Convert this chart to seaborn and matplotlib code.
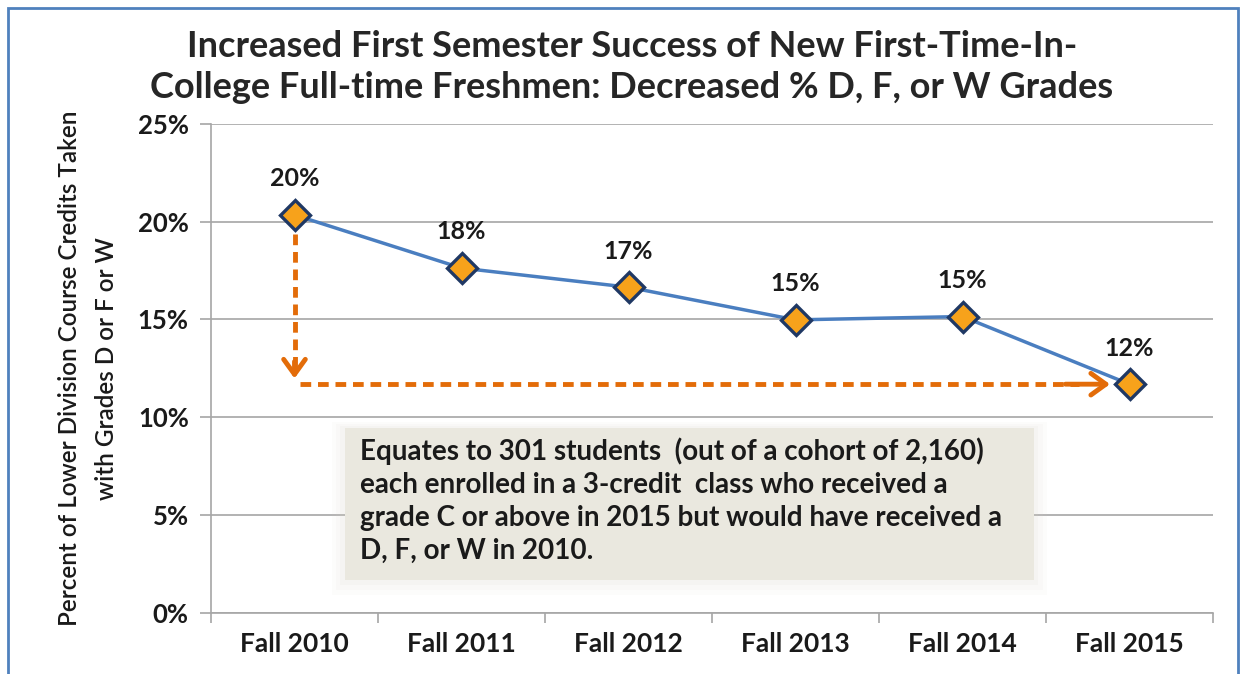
import matplotlib
matplotlib.use("Agg")
import matplotlib.pyplot as plt
import seaborn as sns
import pandas as pd
from matplotlib.patches import Rectangle
from matplotlib.ticker import PercentFormatter

categories = ["Fall 2010", "Fall 2011", "Fall 2012", "Fall 2013", "Fall 2014", "Fall 2015"]
values = [20.35, 17.63, 16.65, 14.98, 15.15, 11.69]
labels = ["20%", "18%", "17%", "15%", "15%", "12%"]
yticks = [0, 5, 10, 15, 20, 25]
title = "Increased First Semester Success of New First-Time-In-\nCollege Full-time Freshmen: Decreased % D, F, or W Grades"
ylabel = "Percent of Lower Division Course Credits Taken\nwith Grades D or F or W"
note = ("Equates to 301 students  (out of a cohort of 2,160)\n"
        "each enrolled in a 3-credit  class who received a\n"
        "grade C or above in 2015 but would have received a\n"
        "D, F, or W in 2010.")

sns.set_theme(style="white")
plt.rcParams["font.family"] = ["Lato", "DejaVu Sans"]

df = pd.DataFrame({"term": categories, "pct": values})

W, H = 1246, 674
fig = plt.figure(figsize=(W / 100, H / 100), dpi=100)
ax = fig.add_axes([211 / W, 1 - 612.7 / H, (1213 - 211) / W, (612.7 - 124) / H])

# blue frame around figure
fig.patches.append(Rectangle((8 / W, -0.05), (1238 - 8) / W, 1.05 - 8 / H,
                             transform=fig.transFigure, fill=False,
                             edgecolor="#4F81BD", linewidth=2))

sns.lineplot(data=df, x="term", y="pct", ax=ax, color="#4A7EC0", linewidth=2.5,
             marker="D", markersize=15, markerfacecolor="#F7A21B",
             markeredgecolor="#1F3864", markeredgewidth=2.4, zorder=5, sort=False)

ax.set_xlim(-0.5, len(categories) - 0.5)
ax.set_ylim(0, 25)
ax.set_yticks(yticks)
ax.yaxis.set_major_formatter(PercentFormatter(decimals=0))
ax.grid(axis="y", color="#A6A6A6", linewidth=1.2)
ax.set_axisbelow(True)
for s in ["top", "right"]:
    ax.spines[s].set_visible(False)
for s in ["left", "bottom"]:
    ax.spines[s].set_color("#A6A6A6")
    ax.spines[s].set_linewidth(1.2)

ax.set_xticks(range(len(categories)))
ax.set_xticklabels(categories)
ax.set_xticks([i - 0.5 for i in range(len(categories) + 1)], minor=True)
ax.tick_params(axis="x", which="major", length=0, pad=14, labelsize=19)
ax.tick_params(axis="x", which="minor", length=7, color="#A6A6A6", width=1.2, direction="out", bottom=True)
ax.tick_params(axis="y", length=8, color="#A6A6A6", width=1.2, direction="out", left=True, labelsize=18.5, pad=8)
for t in ax.get_xticklabels() + ax.get_yticklabels():
    t.set_fontweight("bold")
    t.set_color("#1a1a1a")

ax.set_xlabel("")
ax.set_ylabel(ylabel, fontsize=17.5, color="#1a1a1a", labelpad=14, linespacing=1.75,
              fontweight="semibold")

# data labels
for i, (v, lab) in enumerate(zip(values, labels)):
    ax.text(i, v + 1.85, lab, ha="center", va="center", fontsize=18,
            fontweight="bold", color="#1a1a1a")

# orange dashed arrows
orange = "#E36C09"
x0, x1 = 0, len(categories) - 1
ax.plot([x0, x0], [values[0] - 1.0, values[-1] + 0.6], color=orange, lw=3.5,
        ls=(0, (2.2, 1.4)), zorder=3)
ax.annotate("", xy=(x0, values[-1] + 0.15), xytext=(x0, values[-1] + 1.3),
            arrowprops=dict(arrowstyle="->,head_length=0.9,head_width=0.65", color=orange, lw=3.5), zorder=3)
ax.plot([x0 + 0.03, x1 - 0.3], [values[-1], values[-1]], color=orange, lw=3.5,
        ls=(0, (2.2, 1.4)), zorder=3)
ax.annotate("", xy=(x1 - 0.1, values[-1]), xytext=(x1 - 0.4, values[-1]),
            arrowprops=dict(arrowstyle="->,head_length=0.9,head_width=0.65", color=orange, lw=3.5), zorder=3)

# note box with soft shadow
bx0, bx1, by0, by1 = 0.30, 4.43, 1.67, 9.45
for k, a in enumerate([0.06, 0.08, 0.10]):
    d = 0.05 * (3 - k)
    ax.add_patch(Rectangle((bx0 - d * 0.5, by0 - d * 5), bx1 - bx0 + d, by1 - by0 + d * 7,
                           facecolor="#D8D5C8", edgecolor="none", alpha=a, zorder=2))
ax.add_patch(Rectangle((bx0, by0), bx1 - bx0, by1 - by0, facecolor="#EAE8DF",
                       edgecolor="none", zorder=2))
ax.text(0.39, 8.95, note, ha="left", va="top", fontsize=20, fontweight="bold",
        color="#1a1a1a", linespacing=1.33, zorder=4)

fig.text(632 / W, 1 - 67 / H, title, ha="center", va="center", fontsize=26,
         fontweight="bold", color="#262626", linespacing=1.3)

fig.savefig("out.png", dpi=100)
